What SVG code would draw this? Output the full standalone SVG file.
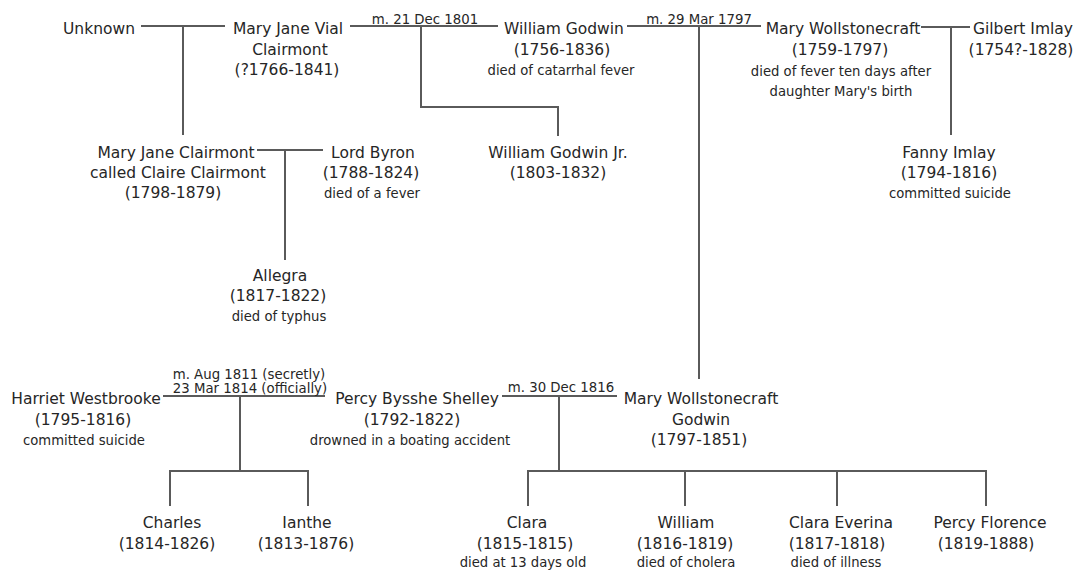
<svg xmlns="http://www.w3.org/2000/svg" width="1076" height="571" viewBox="0 0 1076 571">
<style>
text{font-family:"DejaVu Sans","Liberation Sans",sans-serif;fill:#262626;text-anchor:middle}
.n{font-size:15.5px}
.s{font-size:13.2px}
.m{font-size:13.3px}
.c{fill:none;stroke:#5a5a5a;stroke-width:2}
</style>
<rect width="1076" height="571" fill="#fff"/>
<g id="connectors">
<path class="c" d="M141 26H225M183 26V135"/>
<path class="c" d="M350 26H498M421 26V107H558V136"/>
<path class="c" d="M627 26H761M699 26V379"/>
<path class="c" d="M921 27H970M951 27V135"/>
<path class="c" d="M257 150H323M285 150V260"/>
<path class="c" d="M163 396H325M240 396V471M170 506V471H308V506"/>
<path class="c" d="M502 396H617M559 396V471M528 506V471H986V506M685 471V506M837 471V506"/>
<text class="m" x="425" y="24">m. 21 Dec 1801</text>
<text class="m" x="699" y="24">m. 29 Mar 1797</text>
<text class="m" x="249" y="379">m. Aug 1811 (secretly)</text>
<text class="m" x="250" y="392.5">23 Mar 1814 (officially)</text>
<text class="m" x="561" y="392">m. 30 Dec 1816</text>
</g>
<g id="unknown"><text class="n" x="99" y="34">Unknown</text></g>
<g id="mary-jane-vial-clairmont">
<text class="n" x="288" y="34">Mary Jane Vial</text>
<text class="n" x="290" y="54.5">Clairmont</text>
<text class="n" x="287" y="75">(?1766-1841)</text>
</g>
<g id="william-godwin">
<text class="n" x="564" y="34">William Godwin</text>
<text class="n" x="562" y="54.5">(1756-1836)</text>
<text class="s" x="561" y="75">died of catarrhal fever</text>
</g>
<g id="mary-wollstonecraft">
<text class="n" x="843" y="34">Mary Wollstonecraft</text>
<text class="n" x="840" y="54.5">(1759-1797)</text>
<text class="s" x="841" y="76">died of fever ten days after</text>
<text class="s" x="841" y="96">daughter Mary's birth</text>
</g>
<g id="gilbert-imlay">
<text class="n" x="1023" y="34">Gilbert Imlay</text>
<text class="n" x="1021" y="54.5">(1754?-1828)</text>
</g>
<g id="claire-clairmont">
<text class="n" x="176" y="158">Mary Jane Clairmont</text>
<text class="n" x="178" y="178">called Claire Clairmont</text>
<text class="n" x="173" y="198">(1798-1879)</text>
</g>
<g id="lord-byron">
<text class="n" x="373" y="158">Lord Byron</text>
<text class="n" x="371" y="178">(1788-1824)</text>
<text class="s" x="372" y="198">died of a fever</text>
</g>
<g id="william-godwin-jr">
<text class="n" x="558" y="158">William Godwin Jr.</text>
<text class="n" x="558" y="178">(1803-1832)</text>
</g>
<g id="fanny-imlay">
<text class="n" x="949" y="158">Fanny Imlay</text>
<text class="n" x="949" y="178">(1794-1816)</text>
<text class="s" x="950" y="198">committed suicide</text>
</g>
<g id="allegra">
<text class="n" x="280" y="281">Allegra</text>
<text class="n" x="278" y="301">(1817-1822)</text>
<text class="s" x="279" y="321">died of typhus</text>
</g>
<g id="harriet-westbrooke">
<text class="n" x="86" y="404">Harriet Westbrooke</text>
<text class="n" x="83" y="424.5">(1795-1816)</text>
<text class="s" x="84" y="445">committed suicide</text>
</g>
<g id="percy-bysshe-shelley">
<text class="n" x="417" y="404">Percy Bysshe Shelley</text>
<text class="n" x="412" y="424.5">(1792-1822)</text>
<text class="s" x="410" y="445">drowned in a boating accident</text>
</g>
<g id="mary-wollstonecraft-godwin">
<text class="n" x="701" y="404">Mary Wollstonecraft</text>
<text class="n" x="701" y="424.5">Godwin</text>
<text class="n" x="699" y="445">(1797-1851)</text>
</g>
<g id="charles">
<text class="n" x="172" y="528">Charles</text>
<text class="n" x="167" y="548.5">(1814-1826)</text>
</g>
<g id="ianthe">
<text class="n" x="307" y="528">Ianthe</text>
<text class="n" x="306" y="548.5">(1813-1876)</text>
</g>
<g id="clara">
<text class="n" x="527" y="528">Clara</text>
<text class="n" x="525" y="548.5">(1815-1815)</text>
<text class="s" x="523" y="567">died at 13 days old</text>
</g>
<g id="william">
<text class="n" x="686" y="528">William</text>
<text class="n" x="685" y="548.5">(1816-1819)</text>
<text class="s" x="686" y="567">died of cholera</text>
</g>
<g id="clara-everina">
<text class="n" x="841" y="528">Clara Everina</text>
<text class="n" x="837" y="548.5">(1817-1818)</text>
<text class="s" x="836" y="567">died of illness</text>
</g>
<g id="percy-florence">
<text class="n" x="990" y="528">Percy Florence</text>
<text class="n" x="986" y="548.5">(1819-1888)</text>
</g>
</svg>
